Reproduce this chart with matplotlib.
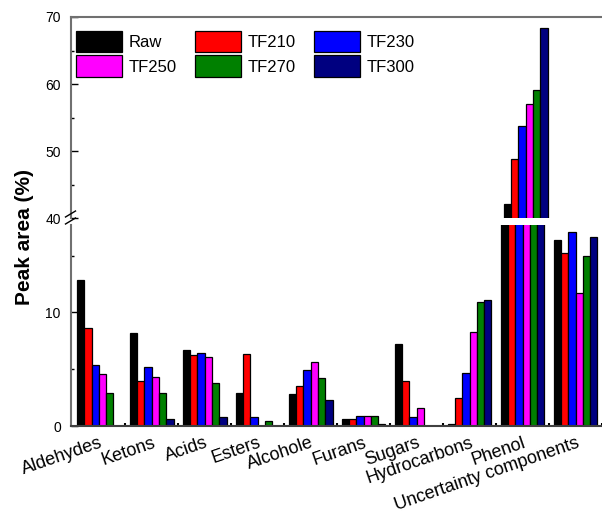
import numpy as np
import matplotlib
matplotlib.use("Agg")
import matplotlib.pyplot as plt
from matplotlib.lines import Line2D

plt.rcParams['font.family'] = ['Liberation Sans', 'DejaVu Sans']

categories = ["Aldehydes", "Ketons", "Acids", "Esters", "Alcohole", "Furans",
              "Sugars", "Hydrocarbons", "Phenol", "Uncertainty components"]
series = ["Raw", "TF210", "TF230", "TF250", "TF270", "TF300"]
colors = ["#000000", "#ff0000", "#0000ff", "#ff00ff", "#008000", "#000080"]

raw   = [12.9, 8.2, 6.7, 2.9, 2.8, 0.65, 7.2, 0.15, 42.2, 16.4]
tf210 = [8.6, 4.0, 6.25, 6.3, 3.5, 0.6, 4.0, 2.45, 48.8, 15.25]
tf230 = [5.4, 5.2, 6.45, 0.8, 4.9, 0.85, 0.8, 4.7, 53.7, 17.1]
tf250 = [4.55, 4.35, 6.1, 0.0, 5.6, 0.85, 1.55, 8.25, 57.0, 11.75]
tf270 = [2.95, 2.95, 3.8, 0.47, 4.2, 0.85, 0.0, 10.9, 59.1, 14.95]
tf300 = [0.0, 0.65, 0.82, 0.0, 2.25, 0.15, 0.0, 11.1, 68.3, 16.65]
data = [raw, tf210, tf230, tf250, tf270, tf300]

W, H = 602, 513
fig = plt.figure(figsize=(W / 100, H / 100), dpi=100)

left = 70.5 / W
ax_top = fig.add_axes([left, 1 - 218.3 / H, 1 - left, (218.3 - 17) / H])
ax_bot = fig.add_axes([left, 1 - 426 / H, 1 - left, (426 - 225) / H])

x = np.arange(len(categories))
bw = 0.1375
spine_col = "#707070"

handles = []
for ax in (ax_top, ax_bot):
    for j, (name, vals) in enumerate(zip(series, data)):
        b = ax.bar(x - 2.5 * bw + j * bw, vals, width=bw, color=colors[j],
                   edgecolor="black", linewidth=0.9, label=name)
        if ax is ax_top:
            handles.append(b)
    ax.set_xlim(-0.534, 9.43)
    ax.spines['right'].set_visible(False)
    ax.spines['left'].set_color(spine_col)
    ax.spines['left'].set_linewidth(1.5)
    ax.tick_params(axis='y', direction='in', length=5, width=1, pad=7,
                   labelsize=10, colors='black')
    ax.tick_params(axis='y', which='minor', direction='in', length=2, width=1)

ax_top.set_ylim(40, 70)
ax_top.set_yticks([40, 50, 60, 70])
ax_top.set_yticks([45, 55, 65], minor=True)
ax_top.spines['bottom'].set_visible(False)
ax_top.spines['top'].set_color(spine_col)
ax_top.spines['top'].set_linewidth(1.5)
ax_top.set_xticks([])

ax_bot.set_ylim(0, 17.7)
ax_bot.set_yticks([0, 10])
ax_bot.set_yticks([5, 15], minor=True)
ax_bot.spines['top'].set_visible(False)
ax_bot.spines['bottom'].set_color("#404040")
ax_bot.spines['bottom'].set_linewidth(1.5)
ax_bot.set_xticks(x)
ax_bot.set_xticklabels(categories, rotation=19, ha='right', va='top',
                       rotation_mode='anchor', fontsize=13)
ax_bot.tick_params(axis='x', length=0, pad=6)
ax_bot.set_xticks(x + 0.5, minor=True)
ax_bot.tick_params(axis='x', which='minor', direction='in', length=2, width=1.5)

# axis break marks
for yb in (214, 221):
    fig.add_artist(Line2D([(left * W - 5) / W, (left * W + 5) / W],
                          [1 - (yb + 3) / H, 1 - (yb - 3) / H],
                          color='black', lw=1))

fig.text(24 / W, 1 - 237 / H, "Peak area (%)", rotation=90, fontsize=15,
         fontweight='bold', ha='center', va='center')

# legend filled row by row: Raw TF210 TF230 / TF250 TF270 TF300
order = [0, 3, 1, 4, 2, 5]
ax_top.legend([handles[i] for i in order], [series[i] for i in order],
              ncol=3, loc='upper left', bbox_to_anchor=(-0.012, 0.99),
              frameon=False, fontsize=12, handlelength=2.8, handleheight=1.6,
              handletextpad=0.4, columnspacing=1.05, labelspacing=0.2,
              borderaxespad=0.3)

fig.savefig("out.png", dpi=100)
